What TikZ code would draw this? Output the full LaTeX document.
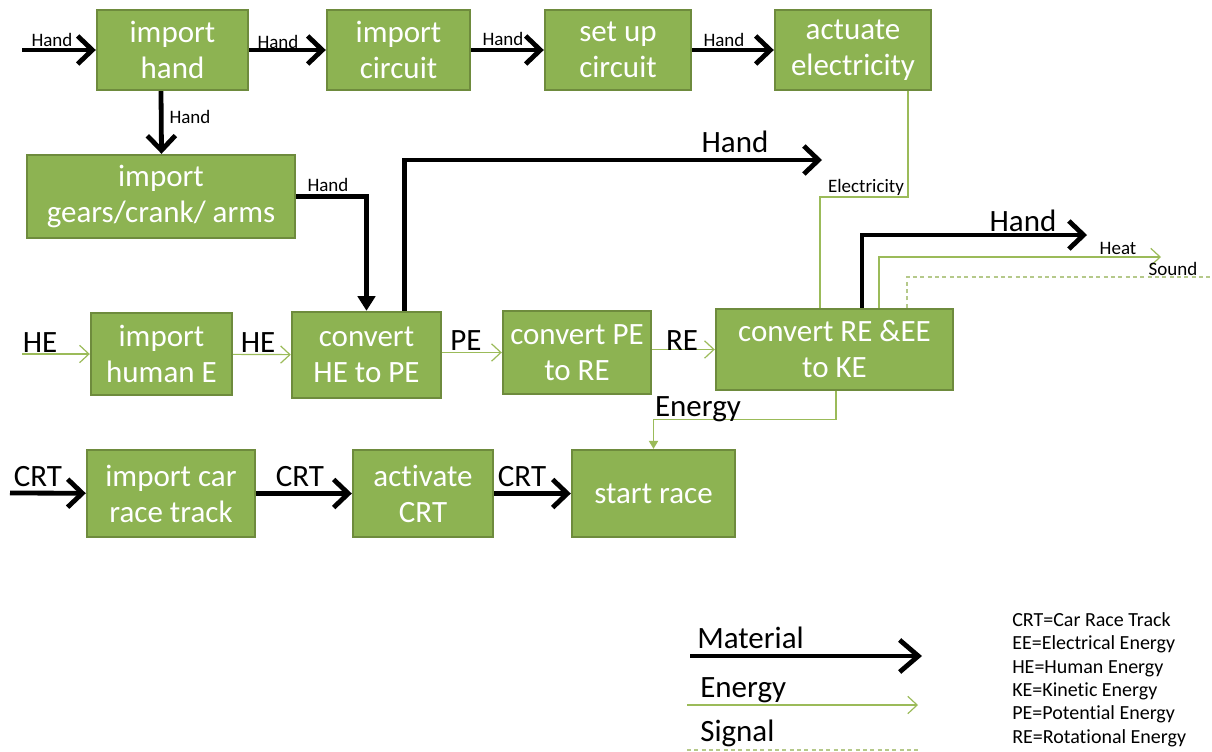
\documentclass[tikz,border=0pt]{standalone}
\usepackage{fontspec}
\setmainfont{Carlito}[Ligatures=NoCommon]
\setsansfont{Carlito}[Ligatures=NoCommon]
\usetikzlibrary{arrows.meta, positioning, calc}
\definecolor{cbox}{HTML}{8DB352}
\definecolor{cboxline}{HTML}{6E8B3D}
\definecolor{cline}{HTML}{9BBB59}
\definecolor{cdash}{HTML}{B5C98A}
\tikzset{
  every picture/.style={font=\sffamily, x=0.75pt, y=-0.75pt},
  box/.style={draw=cboxline, fill=cbox, line width=1.8pt, text=white, align=center, inner sep=0pt,
    font=\sffamily\fontsize{23.25}{27}\selectfont},
  boxsize/.style 2 args={minimum width=#1*0.75pt, minimum height=#2*0.75pt},
  material/.style={draw=black, line width=3.6pt, -{Straight Barb[length=11pt, width=21pt]}},
  materialdown/.style={draw=black, line width=3.6pt, -{Triangle[length=11pt, width=13pt]}},
  energy/.style={draw=cline, line width=0.9pt, -{Straight Barb[length=7pt, width=13pt]}},
  energydown/.style={draw=cline, line width=0.9pt, -{Triangle[length=6pt, width=7pt]}},
  signal/.style={draw=cdash, line width=0.9pt, dash pattern=on 3pt off 2.5pt},
  lbl/.style={font=\sffamily\fontsize{14.25}{16}\selectfont, inner sep=0pt},
  biglbl/.style={font=\sffamily\fontsize{23.25}{27}\selectfont, inner sep=0pt},
  abbr/.style={font=\sffamily\fontsize{15}{17.5}\selectfont, inner sep=0pt, align=left},
}

\begin{document}
\begin{tikzpicture}
  \useasboundingbox (0,0) rectangle (1212,751);
  % top row: hand into the circuit
  \node[box, boxsize={151}{80}] (ihand) at (172.5,50) {import\\hand};
  \node[box, boxsize={143}{80}] (icirc) at (398.5,50) {import\\circuit};
  \node[box, boxsize={146}{80}] (setup) at (618,50) {set up\\circuit};
  \node[box, boxsize={156}{80}] (actu) at (853,50) {actuate\\electricity};
  \node[box, boxsize={268}{83}] (gears) at (161,196.5) {import\\gears/crank/ arms};
  % middle row: energy chain
  \node[box, boxsize={141}{82}] (human) at (161.5,354) {import\\human E};
  \node[box, boxsize={149}{86}] (hetope) at (366.5,355) {convert\\HE to PE};
  \node[box, boxsize={148}{83}] (petore) at (577,352.5) {convert PE\\to RE};
  \node[box, boxsize={237}{81}] (retoke) at (834.5,349.5) {convert RE \&EE\\to KE};
  % bottom row: the track
  \node[box, boxsize={168}{87}] (track) at (171,493.5) {import car\\race track};
  \node[box, boxsize={140}{87}] (activ) at (423,493.5) {activate\\CRT};
  \node[box, boxsize={163}{87}] (race) at (653.5,493.5) {start race};

  % free ends of the flows
  \coordinate (handin) at (22,50);
  \coordinate (hein) at (22,354);
  \coordinate (crtin) at (10,493);
  \coordinate (handout) at (822,160);
  \coordinate (elec) at (820,197);
  \coordinate (handout2) at (1087,235);
  \coordinate (heatout) at (1161,257);
  \coordinate (soundout) at (1212,277);

  % material flows
  \draw[material] (handin) -- (ihand);
  \draw[material] (ihand) -- (icirc);
  \draw[material] (icirc) -- (setup);
  \draw[material] (setup) -- (actu);
  \draw[material] ($(ihand.south)+(-11.5,0)$) -- ($(gears.north)+(0.5,0)$);
  \draw[materialdown] (gears.east) -| (hetope.north);
  \draw[material] ($(hetope.north)+(38,0)$) |- (handout);
  \draw[material] ($(retoke.north)+(27.5,0)$) |- (handout2);
  \draw[material] (crtin) -- (track);
  \draw[material] (track) -- (activ);
  \draw[material] (activ) -- (race);

  % energy flows
  \draw[energy] (hein) -- (human);
  \draw[energy] (human) -- (hetope);
  \draw[energy] (hetope.east |- petore) -- (petore);
  \draw[energy] (petore.east |- retoke) -- (retoke);
  \draw[cline, line width=0.9pt] ($(actu.south)+(55,0)$) |- (elec) -- (elec |- retoke.north);
  \draw[energy] ($(retoke.north)+(44.5,0)$) |- (heatout);
  \draw[energydown] ($(retoke.south)+(1.5,0)$) |- ($(race.north)+(0,-29)$) -- (race.north);
  \draw[signal] ($(retoke.north)+(72.5,0)$) |- (soundout);

  % flow labels
  \node[lbl, anchor=base] (lhand1) at (52,46) {Hand};
  \node[lbl, anchor=base] (lhand2) at (278,48) {Hand};
  \node[lbl, anchor=base] (lhand3) at (503,45) {Hand};
  \node[lbl, anchor=base] (lhand4) at (724,46) {Hand};
  \node[lbl, anchor=base] (lhand5) at (190,123) {Hand};
  \node[lbl, anchor=base] (lhand6) at (328,191) {Hand};
  \node[biglbl, anchor=base] (lhand7) at (735,152) {Hand};
  \node[lbl, anchor=base] (lelec) at (866,192) {Electricity};
  \node[biglbl, anchor=base] (lhand8) at (1023,231) {Hand};
  \node[lbl, anchor=base] (lheat) at (1118,254) {Heat};
  \node[lbl, anchor=base] (lsound) at (1173,275) {Sound};
  \node[biglbl, anchor=base] (lhe1) at (40,352) {HE};
  \node[biglbl, anchor=base] (lhe2) at (258,352) {HE};
  \node[biglbl, anchor=base] (lpe) at (466,350) {PE};
  \node[biglbl, anchor=base] (lre) at (682,350) {RE};
  \node[biglbl, anchor=base] (lenergy) at (698,416) {Energy};
  \node[biglbl, anchor=base] (lcrt1) at (38,486) {CRT};
  \node[biglbl, anchor=base] (lcrt2) at (300,486) {CRT};
  \node[biglbl, anchor=base] (lcrt3) at (522,486) {CRT};

  % legend
  \coordinate (matA) at (690,656);
  \coordinate (matB) at (922,656);
  \coordinate (enA) at (687,705);
  \coordinate (enB) at (918,705);
  \coordinate (sigA) at (687,750);
  \coordinate (sigB) at (918,750);
  \draw[material, -{Straight Barb[length=14pt, width=24pt]}] (matA) -- (matB);
  \draw[energy] (enA) -- (enB);
  \draw[signal] (sigA) -- (sigB);
  \node[biglbl, anchor=base west] (lmat) at (697,648) {Material};
  \node[biglbl, anchor=base west] (lenleg) at (700,697) {Energy};
  \node[biglbl, anchor=base west] (lsig) at (700,741) {Signal};
  \node[abbr, anchor=base west] (labbr) at (1012,743) {CRT=Car Race Track\\EE=Electrical Energy\\HE=Human Energy\\KE=Kinetic Energy\\PE=Potential Energy\\RE=Rotational Energy};
\end{tikzpicture}
\end{document}
